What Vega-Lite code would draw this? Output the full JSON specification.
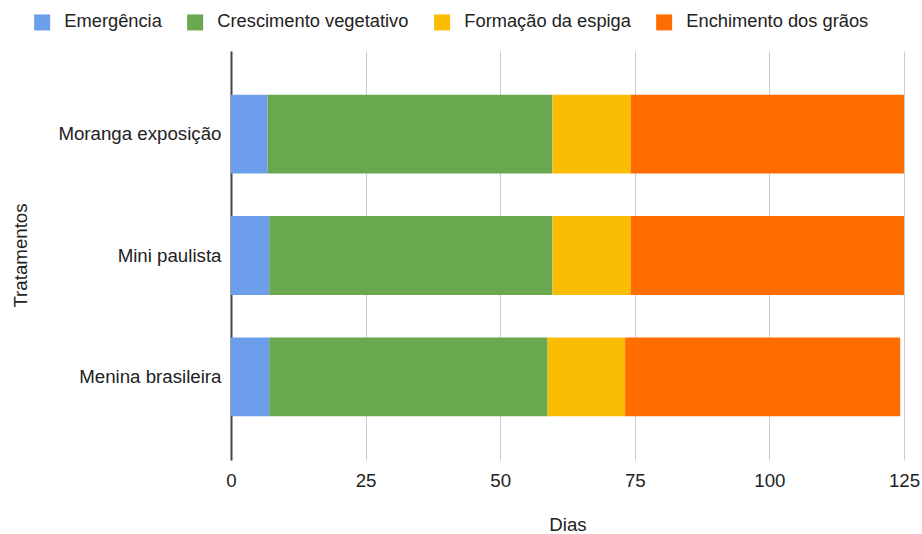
{
  "$schema": "https://vega.github.io/schema/vega-lite/v6.json",
  "width": 673,
  "height": 409,
  "autosize": "none",
  "padding": {"left": 231, "top": 51, "right": 18, "bottom": 74},
  "background": "white",
  "config": {
    "font": "Liberation Sans",
    "view": {"stroke": null},
    "axis": {"labelFont": "Liberation Sans", "titleFont": "Liberation Sans", "labelColor": "#222222", "titleColor": "#222222", "labelFontSize": 18.7, "titleFontSize": 18.7, "titleFontWeight": "normal", "labelLimit": 0},
    "legend": {"labelFont": "Liberation Sans", "labelFontSize": 18.3, "labelColor": "#222222", "labelLimit": 400}
  },
  "data": {
    "values": [
      {"tratamento": "Moranga exposição", "fase": "Emergência", "ordem": 1, "dias": 6.8},
      {"tratamento": "Moranga exposição", "fase": "Crescimento vegetativo", "ordem": 2, "dias": 52.9},
      {"tratamento": "Moranga exposição", "fase": "Formação da espiga", "ordem": 3, "dias": 14.5},
      {"tratamento": "Moranga exposição", "fase": "Enchimento dos grãos", "ordem": 4, "dias": 50.8},
      {"tratamento": "Mini paulista", "fase": "Emergência", "ordem": 1, "dias": 7.1},
      {"tratamento": "Mini paulista", "fase": "Crescimento vegetativo", "ordem": 2, "dias": 52.6},
      {"tratamento": "Mini paulista", "fase": "Formação da espiga", "ordem": 3, "dias": 14.5},
      {"tratamento": "Mini paulista", "fase": "Enchimento dos grãos", "ordem": 4, "dias": 50.8},
      {"tratamento": "Menina brasileira", "fase": "Emergência", "ordem": 1, "dias": 7.1},
      {"tratamento": "Menina brasileira", "fase": "Crescimento vegetativo", "ordem": 2, "dias": 51.7},
      {"tratamento": "Menina brasileira", "fase": "Formação da espiga", "ordem": 3, "dias": 14.4},
      {"tratamento": "Menina brasileira", "fase": "Enchimento dos grãos", "ordem": 4, "dias": 51.1}
    ]
  },
  "mark": {"type": "bar"},
  "encoding": {
    "y": {
      "field": "tratamento",
      "type": "nominal",
      "sort": ["Moranga exposição", "Mini paulista", "Menina brasileira"],
      "scale": {"paddingInner": 0.35, "paddingOuter": 0.36},
      "axis": {
        "title": "Tratamentos",
        "titleX": -211,
        "titleY": 204,
        "titleAngle": -90,
        "titleAlign": "center",
        "titleBaseline": "middle",
        "labelPadding": 10,
        "ticks": false,
        "domainColor": "#444444",
        "domainWidth": 2,
        "grid": false
      }
    },
    "x": {
      "field": "dias",
      "type": "quantitative",
      "aggregate": "sum",
      "stack": "zero",
      "scale": {"domain": [0, 125], "nice": false},
      "axis": {
        "title": "Dias",
        "values": [0, 25, 50, 75, 100, 125],
        "titlePadding": 26,
        "labelPadding": 11,
        "labelFlush": false,
        "ticks": false,
        "domain": false,
        "grid": true,
        "gridColor": "#cccccc",
        "gridWidth": 1
      }
    },
    "color": {
      "field": "fase",
      "type": "nominal",
      "scale": {
        "domain": ["Emergência", "Crescimento vegetativo", "Formação da espiga", "Enchimento dos grãos"],
        "range": ["#6d9eeb", "#6aa84f", "#fbbc04", "#ff6d01"]
      },
      "legend": {
        "title": null,
        "orient": "none",
        "direction": "horizontal",
        "legendX": -198,
        "legendY": -38,
        "symbolType": "square",
        "symbolSize": 256,
        "symbolStrokeWidth": 0,
        "symbolOpacity": 1,
        "labelOffset": 13,
        "columnPadding": 24
      }
    },
    "order": {"field": "ordem", "type": "quantitative"}
  }
}
